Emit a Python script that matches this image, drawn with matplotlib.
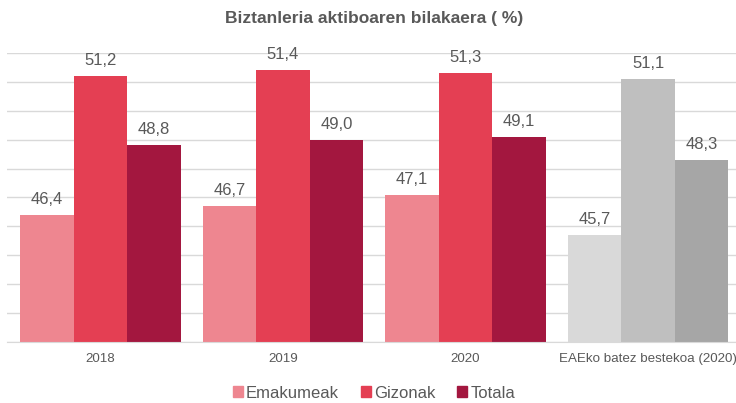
import numpy as np
import matplotlib.pyplot as plt

plt.rcParams['font.family'] = ['Liberation Sans', 'DejaVu Sans']

categories = ["2018", "2019", "2020", "EAEko batez bestekoa (2020)"]
series_names = ["Emakumeak", "Gizonak", "Totala"]
emakumeak = [46.4, 46.7, 47.1, 45.7]
gizonak = [51.2, 51.4, 51.3, 51.1]
totala = [48.8, 49.0, 49.1, 48.3]

# last group (EAE average) is drawn in greys
colors_main = ["#EE8690", "#E43F53", "#A3173F"]
colors_grey = ["#D9D9D9", "#BFBFBF", "#A6A6A6"]
text_col = "#595959"

fig = plt.figure(figsize=(7.36, 4.03), dpi=100)
ax = fig.add_axes([7 / 736, 1 - 342 / 403, 729 / 736, (342 - 53) / 403])

x = np.arange(len(categories))
w = 0.293
values = [emakumeak, gizonak, totala]
for i, vals in enumerate(values):
    cols = [colors_main[i]] * (len(categories) - 1) + [colors_grey[i]]
    bars = ax.bar(x + (i - 1) * w, vals, w, bottom=0, color=cols,
                  label=series_names[i], zorder=2)
    for b, v in zip(bars, vals):
        ax.text(b.get_x() + b.get_width() / 2, v + 0.28,
                f"{v:.1f}".replace(".", ","), ha="center", va="bottom",
                fontsize=12, color=text_col)

ax.set_ylim(42, 52)
ax.set_xlim(-0.512, 3.482)
ax.set_yticks(np.arange(42, 53, 1))
ax.yaxis.grid(True, color="#D9D9D9", linewidth=1, zorder=0)
ax.tick_params(axis="y", left=False, labelleft=False)
ax.tick_params(axis="x", length=0, pad=8, labelsize=9.6, labelcolor=text_col)
ax.set_xticks(x)
ax.set_xticklabels(categories)
# keep the long last label inside the figure
ax.get_xticklabels()[-1].set_x(3 - 0.02)
for s in ["top", "right", "left"]:
    ax.spines[s].set_visible(False)
ax.spines["bottom"].set_color("#D9D9D9")

fig.text(0.508, 1 - 18 / 403, "Biztanleria aktiboaren bilakaera ( %)",
         ha="center", va="center", fontsize=12.5, fontweight="bold", color=text_col)

handles = [plt.Rectangle((0, 0), 1, 1, color=c) for c in colors_main]
fig.legend(handles, series_names, loc="center", bbox_to_anchor=(0.508, 1 - 393 / 403),
           ncol=3, frameon=False, fontsize=12, handlelength=0.6, handleheight=0.6,
           handletextpad=0.2, columnspacing=1.3, labelcolor=text_col)

fig.savefig("out.png", dpi=100)
